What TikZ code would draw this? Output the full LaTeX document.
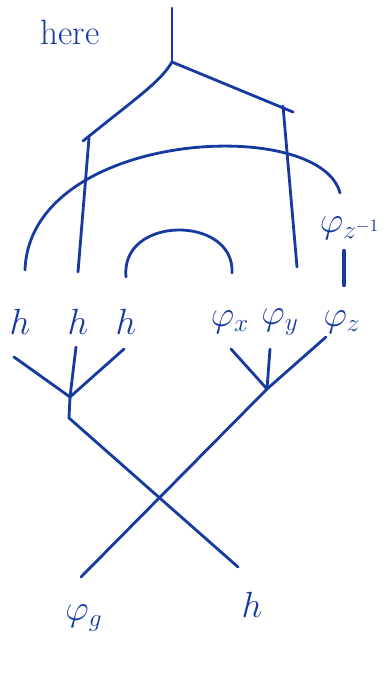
\documentclass[tikz,border=0pt]{standalone}
\usepackage{xcolor}
\definecolor{ink}{RGB}{22,58,160}
\usepackage{tikz}
\usetikzlibrary{positioning, calc}
\usepackage{amsmath, amssymb}

\begin{document}
\begin{tikzpicture}[
      x=0.02cm, y=-0.02cm,
      wire/.style={draw=ink, line width=1.6pt, line cap=round, line join=round},
      lbl/.style={text=ink, font=\fontsize{20}{24}\selectfont, inner sep=0pt}]

    \useasboundingbox (0,0) rectangle (390,674);

    % ── Titre ──
    \node[lbl] (here) at (70,32) {here};

    % ── Etiquettes du milieu ──
    \node[lbl] (h1) at (20,322) {$h$};
    \node[lbl] (h2) at (78,322) {$h$};
    \node[lbl] (h3) at (126,322) {$h$};
    \node[lbl] (px) at (230,322) {$\varphi_x$};
    \node[lbl] (py) at (280,322) {$\varphi_y$};
    \node[lbl] (pz) at (342,322) {$\varphi_z$};
    \node[lbl] (pzi) at (350,228) {$\varphi_{z^{-1}}$};

    % ── Etiquettes du bas ──
    \node[lbl] (pg) at (84,618) {$\varphi_g$};
    \node[lbl] (hb) at (252,605) {$h$};

    % ── Points ──
    \coordinate (top) at (172,8);
    \coordinate (fork) at (172,62);
    \coordinate (ltip) at (83,141);
    \coordinate (rtip) at (293,112);
    \coordinate (ltop) at (89,138);
    \coordinate (lbot) at (78,272);
    \coordinate (rtop) at (283,106);
    \coordinate (rbot) at (297,267);
    \coordinate (arcA) at (25,270);
    \coordinate (arcB) at (340,193);
    \coordinate (capA) at (126,277);
    \coordinate (capB) at (232,273);
    \coordinate (zA) at (344,251);
    \coordinate (zB) at (344,285);
    \coordinate (e1) at (14,357);
    \coordinate (e2) at (76,347);
    \coordinate (e3) at (124,349);
    \coordinate (vl) at (70,397);
    \coordinate (kl) at (69,418);
    \coordinate (ex) at (231,349);
    \coordinate (ey) at (270,349);
    \coordinate (ez) at (326,337);
    \coordinate (vr) at (267,389);
    \coordinate (bl) at (81,577);
    \coordinate (br) at (238,567);

    % ── Arbre du haut ──
    \draw[wire] (top) -- (fork);
    \draw[wire] (fork) .. controls (160,82) and (140,95) .. (ltip);
    \draw[wire] (fork) -- (rtip);
    \draw[wire] (ltop) -- (lbot);
    \draw[wire] (rtop) -- (rbot);

    % ── Arcs ──
    \draw[wire] (arcA) .. controls (30,130) and (320,115) .. (arcB);
    \draw[wire] (capA) .. controls (120,215) and (235,215) .. (capB);
    \draw[wire, line width=2.4pt] (zA) -- (zB);

    % ── Fourches du bas ──
    \draw[wire] (e1) -- (vl);
    \draw[wire] (e2) -- (vl);
    \draw[wire] (e3) -- (vl);
    \draw[wire] (ex) -- (vr);
    \draw[wire] (ey) -- (vr);
    \draw[wire] (ez) -- (vr) -- (bl);
    \draw[wire] (vl) -- (kl) -- (br);

\end{tikzpicture}
\end{document}
